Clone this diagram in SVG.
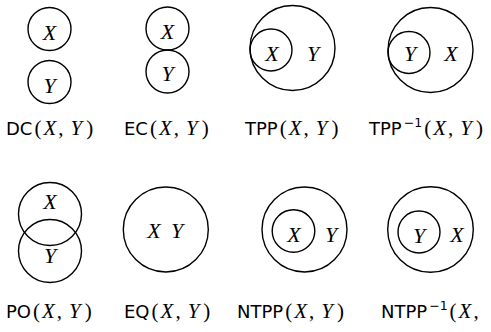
<svg xmlns="http://www.w3.org/2000/svg" width="491" height="332" viewBox="0 0 491 332">
<style>
circle{fill:none;stroke:#000;stroke-width:1.4}
.v{font-family:"Liberation Serif",serif;font-style:italic;font-size:22px;text-anchor:middle;fill:#000}
.lab{font-size:18px;fill:#000}
.sf{font-family:"DejaVu Sans",sans-serif;font-size:18px}
.rm{font-family:"Liberation Serif",serif;font-size:21px}
.it{font-family:"Liberation Serif",serif;font-style:italic;font-size:21px}
.sup{font-family:"DejaVu Sans",sans-serif;font-size:12.5px}
</style>
<g id="DC">
<circle cx="49.5" cy="29" r="21.5"/><circle cx="49.5" cy="82" r="21.5"/>
<text class="v" x="49.5" y="40">X</text><text class="v" x="49.5" y="93">Y</text>
<text class="lab" x="6" y="135"><tspan class="sf">DC</tspan><tspan class="rm" dx="2">(</tspan><tspan class="it" dx="2">X</tspan><tspan class="rm" dx="2">,</tspan><tspan class="it" dx="7">Y</tspan><tspan class="rm" dx="4">)</tspan></text>
</g>
<g id="EC">
<circle cx="167.5" cy="28.5" r="21.5"/><circle cx="167.5" cy="71.5" r="21.5"/>
<text class="v" x="167.5" y="39">X</text><text class="v" x="167.5" y="81">Y</text>
<text class="lab" x="124" y="135"><tspan class="sf">EC</tspan><tspan class="rm" dx="2">(</tspan><tspan class="it" dx="2">X</tspan><tspan class="rm" dx="2">,</tspan><tspan class="it" dx="7">Y</tspan><tspan class="rm" dx="4">)</tspan></text>
</g>
<g id="TPP">
<circle cx="292.5" cy="48" r="42.5"/><circle cx="271" cy="50" r="21"/>
<text class="v" x="272" y="61">X</text><text class="v" x="313" y="61">Y</text>
<text class="lab" x="245" y="135"><tspan class="sf">TPP</tspan><tspan class="rm" dx="2">(</tspan><tspan class="it" dx="2">X</tspan><tspan class="rm" dx="2">,</tspan><tspan class="it" dx="7">Y</tspan><tspan class="rm" dx="4">)</tspan></text>
</g>
<g id="TPPi">
<circle cx="430.5" cy="50" r="42.5"/><circle cx="409" cy="52.5" r="21"/>
<text class="v" x="410" y="61">Y</text><text class="v" x="451" y="61">X</text>
<text class="lab" x="369" y="135"><tspan class="sf">TPP</tspan><tspan class="sup" dx="2" dy="-8">−1</tspan><tspan class="rm" dx="2" dy="8">(</tspan><tspan class="it" dx="2">X</tspan><tspan class="rm" dx="2">,</tspan><tspan class="it" dx="7">Y</tspan><tspan class="rm" dx="4">)</tspan></text>
</g>
<g id="PO">
<circle cx="50" cy="214" r="31.5"/><circle cx="50" cy="251" r="31.5"/>
<text class="v" x="50" y="209">X</text><text class="v" x="50" y="263">Y</text>
<text class="lab" x="6" y="318"><tspan class="sf">PO</tspan><tspan class="rm" dx="2">(</tspan><tspan class="it" dx="2">X</tspan><tspan class="rm" dx="2">,</tspan><tspan class="it" dx="7">Y</tspan><tspan class="rm" dx="4">)</tspan></text>
</g>
<g id="EQ">
<circle cx="165.8" cy="229.5" r="42.5"/>
<text class="v" x="154" y="238">X</text><text class="v" x="177" y="238">Y</text>
<text class="lab" x="124" y="318"><tspan class="sf">EQ</tspan><tspan class="rm" dx="2">(</tspan><tspan class="it" dx="2">X</tspan><tspan class="rm" dx="2">,</tspan><tspan class="it" dx="7">Y</tspan><tspan class="rm" dx="4">)</tspan></text>
</g>
<g id="NTPP">
<circle cx="304.5" cy="229.5" r="42.5"/><circle cx="293.5" cy="231" r="21.3"/>
<text class="v" x="294" y="242">X</text><text class="v" x="331" y="242">Y</text>
<text class="lab" x="237" y="318"><tspan class="sf">NTPP</tspan><tspan class="rm" dx="2">(</tspan><tspan class="it" dx="2">X</tspan><tspan class="rm" dx="2">,</tspan><tspan class="it" dx="7">Y</tspan><tspan class="rm" dx="4">)</tspan></text>
</g>
<g id="NTPPi">
<circle cx="430.5" cy="229.5" r="42.8"/><circle cx="419" cy="232" r="21"/>
<text class="v" x="419" y="243">Y</text><text class="v" x="457" y="242">X</text>
<text class="lab" x="381" y="318"><tspan class="sf">NTPP</tspan><tspan class="sup" dx="2" dy="-8">−1</tspan><tspan class="rm" dx="2" dy="8">(</tspan><tspan class="it" dx="2">X</tspan><tspan class="rm" dx="2">,</tspan></text>
</g>
<g id="connectors"/>
</svg>
